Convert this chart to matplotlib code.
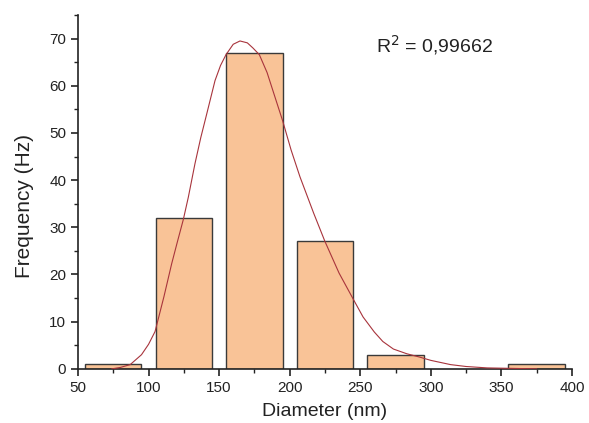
import matplotlib
matplotlib.use("Agg")
import matplotlib.pyplot as plt
from matplotlib.ticker import MultipleLocator

plt.rcParams['font.family'] = ['Liberation Sans', 'DejaVu Sans']

# Histogram bins (centers) and counts
bin_centers = [75, 125, 175, 225, 275, 375]
counts = [1, 32, 67, 27, 3, 1]
bin_width = 40

# Fitted curve
fit_x = [74, 80, 87, 95, 100, 104.6, 110.9, 116.4, 120.5, 124.6, 128.2, 132.9,
         137, 141.2, 147.1, 151, 154.9, 160, 164.8, 170, 174, 178.5, 184,
         189.6, 195, 201, 207.3, 217, 225, 235, 245, 252, 260, 266, 273.5, 283,
         292, 300, 314, 325, 340, 375]
fit_y = [0, 0.3, 0.9, 3.0, 5.2, 7.9, 15.3, 22.3, 27.0, 31.6, 36.4, 43.5,
         49.0, 54.0, 61.1, 64.3, 66.6, 68.8, 69.5, 69.1, 68.0, 66.6, 62.8,
         57.6, 52.6, 46.4, 40.7, 33.0, 27.0, 20.3, 14.8, 11.0, 7.8, 5.8, 4.2, 3.2,
         2.5, 1.8, 0.9, 0.5, 0.2, 0.0]

r2_text = "R$^2$ = 0,99662"

fig = plt.figure(figsize=(5.89, 4.23), dpi=100)
ax = fig.add_axes([0.1324, 0.128, 0.8386, 0.8365])

ax.bar(bin_centers, counts, width=bin_width, color='#F9C397', edgecolor='#3a3a3a',
       linewidth=1.0, zorder=2)
ax.plot(fit_x, fit_y, color='#A8343C', linewidth=0.8, zorder=3)

ax.set_xlim(50, 400)
ax.set_ylim(0, 75)
ax.xaxis.set_major_locator(MultipleLocator(50))
ax.xaxis.set_minor_locator(MultipleLocator(25))
ax.yaxis.set_major_locator(MultipleLocator(10))
ax.yaxis.set_minor_locator(MultipleLocator(5))
ax.set_yticks([0, 10, 20, 30, 40, 50, 60, 70])

for s in ['top', 'right']:
    ax.spines[s].set_visible(False)
for s in ['left', 'bottom']:
    ax.spines[s].set_linewidth(1.2)
    ax.spines[s].set_color('#222222')

ax.tick_params(axis='both', which='major', direction='out', length=5, width=1.2,
               labelsize=11, colors='#222222')
ax.tick_params(axis='both', which='minor', direction='out', length=3, width=1.0,
               colors='#222222')

ax.set_xlabel('Diameter (nm)', fontsize=14, color='#222222', labelpad=6)
ax.set_ylabel('Frequency (Hz)', fontsize=15, color='#222222')
ax.yaxis.set_label_coords(-0.09, 0.46)

ax.text(261, 67.0, r2_text, fontsize=14, color='#222222', va='baseline', ha='left')

fig.savefig('out.png', dpi=100)
